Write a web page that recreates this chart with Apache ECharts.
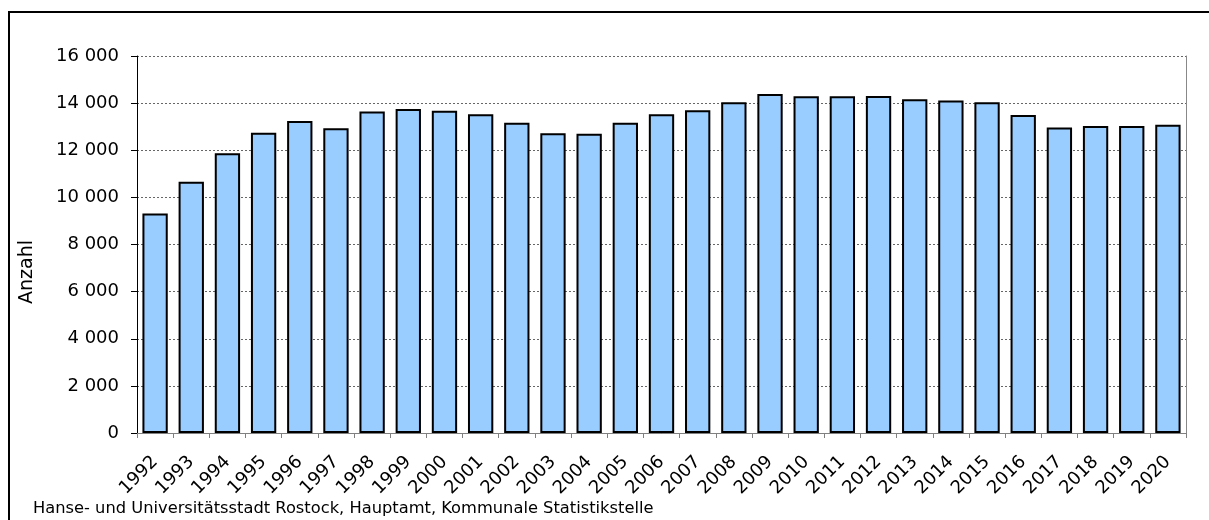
<!DOCTYPE html>
<html>
<head>
<meta charset="utf-8">
<script src="https://cdn.jsdelivr.net/npm/echarts@6/dist/echarts.min.js"></script>
<style>
html, body { margin: 0; padding: 0; background: #fff; }
#chart { width: 1209px; height: 520px; }
</style>
</head>
<body>
<div id="chart"></div>
<script>
// Jahre
var years = ['1992', '1993', '1994', '1995', '1996', '1997', '1998', '1999', '2000', '2001',
    '2002', '2003', '2004', '2005', '2006', '2007', '2008', '2009', '2010', '2011',
    '2012', '2013', '2014', '2015', '2016', '2017', '2018', '2019', '2020'];
// Anzahl je Jahr
var anzahl = [9320, 10660, 11870, 12740, 13240, 12930, 13640, 13750, 13680, 13530,
    13170, 12720, 12700, 13170, 13530, 13700, 14040, 14390, 14290, 14290,
    14300, 14160, 14110, 14040, 13500, 12970, 13030, 13030, 13080];
var yTicks = [0, 2000, 4000, 6000, 8000, 10000, 12000, 14000, 16000];
var axisTitle = 'Anzahl';
var quelle = 'Hanse- und Universitätsstadt Rostock, Hauptamt, Kommunale Statistikstelle';

var font = 'DejaVu Sans';

function tausender(v) {
    // Leerzeichen als Tausendertrennzeichen
    return String(v).replace(/\B(?=(\d{3})+(?!\d))/g, ' ');
}

var chart = echarts.init(document.getElementById('chart'));
var option = {
    backgroundColor: '#fff',
    animation: false,
    grid: {
        left: 137,
        right: 23,
        top: 56,
        bottom: 87
    },
    xAxis: {
        type: 'category',
        data: years,
        axisLine: { lineStyle: { color: '#808080', width: 1 } },
        axisTick: { show: true, length: 5, lineStyle: { color: '#808080' } },
        axisLabel: {
            rotate: 45,
            margin: 26,
            color: '#000',
            fontFamily: font,
            fontSize: 18,
            interval: 0
        }
    },
    yAxis: [{
        type: 'value',
        min: yTicks[0],
        max: yTicks[yTicks.length - 1],
        interval: 2000,
        axisLine: { show: true, lineStyle: { color: '#000', width: 1 } },
        axisTick: { show: true, length: 6, lineStyle: { color: '#000' } },
        axisLabel: {
            color: '#000',
            fontFamily: font,
            fontSize: 18,
            margin: 18,
            formatter: tausender
        },
        splitLine: {
            show: true,
            lineStyle: { color: '#666', type: [2, 2], width: 1 }
        }
    }, {
        // rechter Rand der Zeichenflaeche
        type: 'value',
        position: 'right',
        min: 0,
        max: 16000,
        axisLine: { show: true, lineStyle: { color: '#888', width: 1 } },
        axisTick: { show: false },
        axisLabel: { show: false },
        splitLine: { show: false }
    }],
    graphic: [{
        type: 'rect',
        shape: { x: 9, y: 12, width: 1400, height: 700 },
        style: { fill: null, stroke: '#000', lineWidth: 2 },
        silent: true
    }, {
        type: 'text',
        x: 27,
        y: 272,
        rotation: Math.PI / 2,
        style: {
            text: axisTitle,
            fontFamily: font,
            fontSize: 19,
            fill: '#000',
            align: 'center',
            verticalAlign: 'middle'
        }
    }, {
        type: 'text',
        left: 33,
        top: 501,
        style: {
            text: quelle,
            fontFamily: font,
            fontSize: 16.3,
            fill: '#000'
        }
    }],
    series: [{
        name: axisTitle,
        type: 'bar',
        data: anzahl,
        barCategoryGap: '30%',
        itemStyle: {
            color: '#99ccff',
            borderColor: '#000',
            borderWidth: 2
        }
    }]
};
chart.setOption(option);
</script>
</body>
</html>
